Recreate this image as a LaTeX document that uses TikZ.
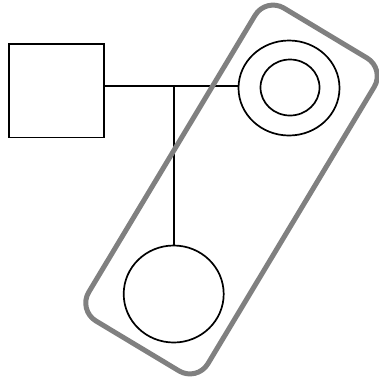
\documentclass[tikz,border=0pt]{standalone}
\usepackage{tikz}
\usetikzlibrary{positioning,shapes.geometric}

\tikzset{
  male/.style={draw, line width=1.7pt, rectangle, minimum width=95pt, minimum height=93.5pt},
  female/.style={draw, line width=1.7pt, ellipse},
  household/.style={draw=black!50, line width=5pt, rounded corners=21pt}
}

\begin{document}
\begin{tikzpicture}[x=1pt, y=-1pt, line width=1.7pt]
  \useasboundingbox (0,0) rectangle (379,376);
  % persons
  \node[male] (father) at (56.7,90.8) {};
  \node[female, minimum width=101pt, minimum height=95pt] (mother) at (289,88) {};
  \node[female, minimum width=59pt, minimum height=56pt] (motherin) at (290,87.5) {};
  \node[female, minimum width=100pt, minimum height=97pt] (child) at (173.7,294) {};
  % marriage and descent lines
  \coordinate (union) at (173.7,86);
  \draw (father.east |- union) -- (union -| mother.west);
  \draw (union) -- (child.north);
  % household
  \node[household, minimum width=139pt, minimum height=365pt, rotate=-31] (home) at (231.5,189.5) {};
\end{tikzpicture}
\end{document}
